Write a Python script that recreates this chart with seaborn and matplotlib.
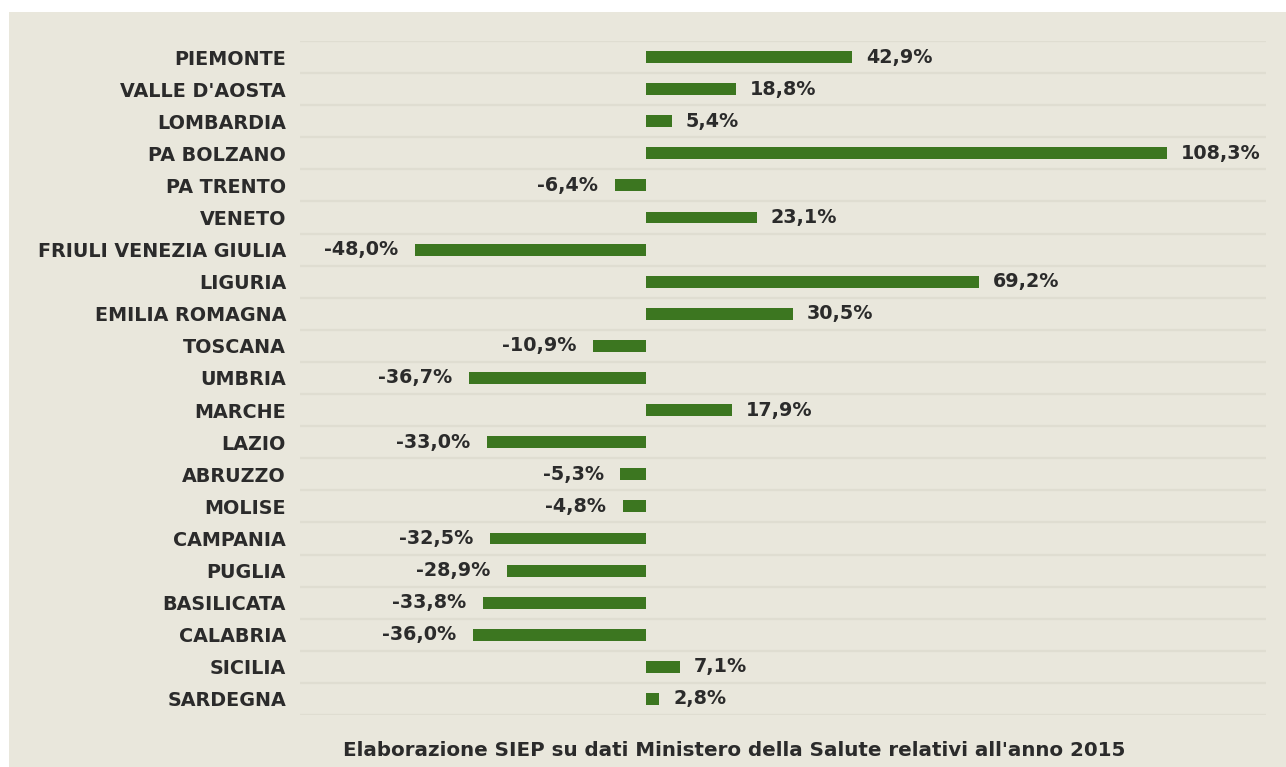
import numpy as np
import pandas as pd
import matplotlib.pyplot as plt
import matplotlib.patches as patches
import seaborn as sns

regions = [
    "PIEMONTE", "VALLE D'AOSTA", "LOMBARDIA", "PA BOLZANO", "PA TRENTO",
    "VENETO", "FRIULI VENEZIA GIULIA", "LIGURIA", "EMILIA ROMAGNA", "TOSCANA",
    "UMBRIA", "MARCHE", "LAZIO", "ABRUZZO", "MOLISE", "CAMPANIA", "PUGLIA",
    "BASILICATA", "CALABRIA", "SICILIA", "SARDEGNA",
]
variation = [
    42.9, 18.8, 5.4, 108.3, -6.4, 23.1, -48.0, 69.2, 30.5, -10.9,
    -36.7, 17.9, -33.0, -5.3, -4.8, -32.5, -28.9, -33.8, -36.0, 7.1, 2.8,
]
caption = "Elaborazione SIEP su dati Ministero della Salute relativi all'anno 2015"

panel_color = "#e9e7dc"
grid_color = "#dfddd1"
bar_color = "#3c7620"
text_color = "#2b2b2b"

sns.set_theme(style="white")
plt.rcParams["font.family"] = ["DejaVu Sans"]

df = pd.DataFrame({"region": regions, "value": variation})

fig = plt.figure(figsize=(12.86, 7.67), dpi=100, facecolor="white")
# beige panel behind everything
fig.patches.append(patches.Rectangle((9 / 1286, 0), 1 - 9 / 1286, 1 - 12 / 767,
                                     transform=fig.transFigure, facecolor=panel_color,
                                     edgecolor="none", zorder=-10))

ax = fig.add_axes([300 / 1286, 52 / 767, 966 / 1286, 674 / 767])
ax.set_facecolor("none")

sns.barplot(data=df, x="value", y="region", orient="h", color=bar_color,
            width=0.37, saturation=1, linewidth=0, edgecolor="none", ax=ax, zorder=3)

ax.set_xlim(-71.9, 128.9)
ax.set_ylim(20.5, -0.5)

# grid lines between rows
ax.set_yticks(np.arange(-0.5, 21, 1), minor=True)
ax.grid(which="minor", axis="y", color=grid_color, linewidth=1.6, zorder=1)
ax.tick_params(which="minor", length=0)
ax.set_xticks([])
ax.tick_params(axis="y", which="major", length=0, pad=10)
for lbl in ax.get_yticklabels():
    lbl.set_fontsize(13.8)
    lbl.set_fontweight("bold")
    lbl.set_color(text_color)

for s in ax.spines.values():
    s.set_visible(False)
ax.set_xlabel("")
ax.set_ylabel("")

for i, v in enumerate(variation):
    txt = f"{v:.1f}%".replace(".", ",")
    if v >= 0:
        ax.annotate(txt, (v, i), xytext=(10, 0), textcoords="offset points",
                    ha="left", va="center", fontsize=13.8, fontweight="bold", color=text_color)
    else:
        ax.annotate(txt, (v, i), xytext=(-12, 0), textcoords="offset points",
                    ha="right", va="center", fontsize=13.8, fontweight="bold", color=text_color)

fig.text(734 / 1286, 1 - 750 / 767, caption, ha="center", va="center",
         fontsize=14.3, fontweight="bold", color=text_color)

fig.savefig("out.png", dpi=100, facecolor="white")
